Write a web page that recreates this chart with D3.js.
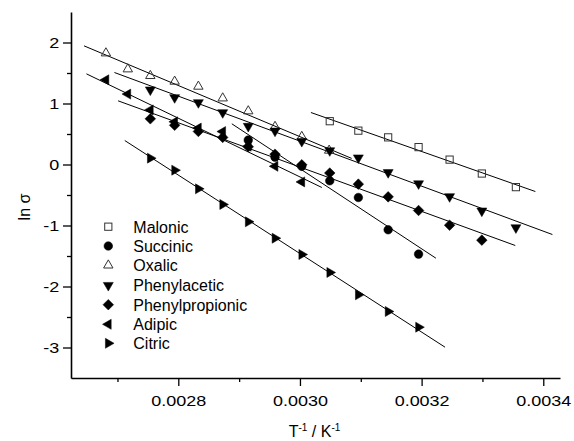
<!DOCTYPE html>
<html>
<head>
<meta charset="utf-8">
<script src="https://cdn.jsdelivr.net/npm/d3@7"></script>
<style>
  html, body { margin: 0; padding: 0; background: #fff; }
  svg { display: block; }
  text { font-family: "Liberation Sans", Arial, sans-serif; fill: #000; }
</style>
</head>
<body>
<svg id="chart" width="574" height="441"></svg>
<script>
// ---------- data ----------
const seriesNames = ["Malonic", "Succinic", "Oxalic", "Phenylacetic", "Phenylpropionic", "Adipic", "Citric"];

const malonicX = [0.003049, 0.003096, 0.003145, 0.003195, 0.003246, 0.003299, 0.003355];
const malonicY = [0.71, 0.555, 0.445, 0.285, 0.08, -0.148, -0.371];

const succinicX = [0.002915, 0.002959, 0.003003, 0.003049, 0.003096, 0.003145, 0.003195];
const succinicY = [0.40, 0.12, -0.03, -0.267, -0.541, -1.07, -1.469];

const oxalicX = [0.002681, 0.002717, 0.002754, 0.002794, 0.002833, 0.002873, 0.002915, 0.002959, 0.003003, 0.003048];
const oxalicY = [1.825, 1.563, 1.454, 1.361, 1.279, 1.087, 0.875, 0.62, 0.456, 0.23];

const phenylaceticX = [0.002754, 0.002794, 0.002833, 0.002873, 0.002915, 0.002959, 0.003003, 0.003049, 0.003096, 0.003145, 0.003195, 0.003246, 0.003299, 0.003355];
const phenylaceticY = [1.224, 1.098, 1.016, 0.852, 0.627, 0.55, 0.38, 0.228, 0.11, -0.131, -0.314, -0.525, -0.76, -1.035];

const phenylpropionicX = [0.002754, 0.002794, 0.002833, 0.002873, 0.002915, 0.002959, 0.003003, 0.003049, 0.003096, 0.003145, 0.003195, 0.003246, 0.003299];
const phenylpropionicY = [0.749, 0.643, 0.542, 0.444, 0.29, 0.169, -0.005, -0.14, -0.322, -0.53, -0.754, -0.995, -1.24];

const adipicX = [0.002681, 0.002717, 0.002754, 0.002794, 0.002833, 0.002873, 0.002915, 0.002959, 0.003003];
const adipicY = [1.389, 1.154, 0.895, 0.70, 0.597, 0.54, 0.30, -0.03, -0.285];

const citricX = [0.002754, 0.002794, 0.002833, 0.002873, 0.002915, 0.002959, 0.003003, 0.003049, 0.003096, 0.003145, 0.003195];
const citricY = [0.104, -0.093, -0.399, -0.655, -0.94, -1.208, -1.475, -1.77, -2.137, -2.41, -2.667];

// fitted straight lines: [x1, y1, x2, y2] as drawn in the reference
const malonicFit = [0.003018, 0.852, 0.003387, -0.443];
const succinicFit = [0.002888, 0.667, 0.0032235, -1.536];
const oxalicFit = [0.002645, 1.945, 0.003085, 0.10];
const phenylaceticFit = [0.002695, 1.508, 0.003415, -1.148];
const phenylpropionicFit = [0.002701, 1.044, 0.003354, -1.328];
const adipicFit = [0.002649, 1.486, 0.003036, -0.377];
const citricFit = [0.002712, 0.393, 0.0032385, -2.995];

const xMajorTicks = [0.0028, 0.0030, 0.0032, 0.0034];
const xMinorTicks = [0.0027, 0.0029, 0.0031, 0.0033];
const yMajorTicks = [-3, -2, -1, 0, 1, 2];
const yMinorTicks = [-2.5, -1.5, -0.5, 0.5, 1.5];
const xTickLabels = ["0.0028", "0.0030", "0.0032", "0.0034"];
const yTickLabels = ["-3", "-2", "-1", "0", "1", "2"];

// ---------- build ----------
const series = [
  { name: "Malonic", xs: malonicX, ys: malonicY, fit: malonicFit, shape: "square", open: true },
  { name: "Succinic", xs: succinicX, ys: succinicY, fit: succinicFit, shape: "circle", open: false },
  { name: "Oxalic", xs: oxalicX, ys: oxalicY, fit: oxalicFit, shape: "up", open: true },
  { name: "Phenylacetic", xs: phenylaceticX, ys: phenylaceticY, fit: phenylaceticFit, shape: "down", open: false },
  { name: "Phenylpropionic", xs: phenylpropionicX, ys: phenylpropionicY, fit: phenylpropionicFit, shape: "diamond", open: false },
  { name: "Adipic", xs: adipicX, ys: adipicY, fit: adipicFit, shape: "left", open: false },
  { name: "Citric", xs: citricX, ys: citricY, fit: citricFit, shape: "right", open: false }
];

const svg = d3.select("#chart");
const X0 = 71, X1 = 560, Y0 = 378, Y1 = 12;

const x = d3.scaleLinear().domain([0.0026236, 0.0034275]).range([X0, X1]);
const y = d3.scaleLinear().domain([-3.5, 2.5]).range([Y0, Y1]);

const STRETCH = 1.16;

// axes
const gx = svg.append("g").attr("transform", `translate(0,${Y0})`);
gx.call(d3.axisBottom(x).tickValues(xMajorTicks).tickSize(8).tickSizeOuter(0).tickPadding(9)
  .tickFormat((d, i) => xTickLabels[i]));
gx.append("g").call(d3.axisBottom(x).tickValues(xMinorTicks).tickSize(4).tickSizeOuter(0).tickFormat(""))
  .select(".domain").remove();

const gy = svg.append("g").attr("transform", `translate(${X0},0)`);
gy.call(d3.axisLeft(y).tickValues(yMajorTicks).tickSize(8).tickSizeOuter(0)
  .tickFormat((d, i) => yTickLabels[i]));
gy.append("g").call(d3.axisLeft(y).tickValues(yMinorTicks).tickSize(4).tickSizeOuter(0).tickFormat(""))
  .select(".domain").remove();

svg.selectAll(".domain").attr("stroke", "#000").attr("stroke-width", 1.6);
svg.selectAll(".tick line").attr("stroke", "#000").attr("stroke-width", 1.3);
gx.selectAll(".tick text").attr("font-size", 15.5).attr("font-family", "Liberation Sans, Arial, sans-serif")
  .attr("transform", `scale(${STRETCH},1)`);
gy.selectAll(".tick text").attr("font-size", 15.5).attr("font-family", "Liberation Sans, Arial, sans-serif")
  .attr("x", -11.7 / STRETCH).attr("dy", "0.33em")
  .attr("transform", `scale(${STRETCH},1)`);

// axis titles
const xt = svg.append("text").attr("x", 314.5).attr("y", 436.5).attr("text-anchor", "middle")
  .attr("font-size", 16);
xt.append("tspan").text("T");
xt.append("tspan").attr("font-size", 10).attr("dy", -6).text("-1");
xt.append("tspan").attr("dy", 6).text(" / K");
xt.append("tspan").attr("font-size", 10).attr("dy", -6).text("-1");

svg.append("text").attr("transform", "translate(30,207) rotate(-90)").attr("text-anchor", "middle")
  .attr("font-size", 16).text("ln σ");

// symbols
function drawSymbol(g, shape, open) {
  let p;
  if (shape === "square") {
    p = g.append("rect").attr("x", -3.6).attr("y", -3.6).attr("width", 7.2).attr("height", 7.2);
  } else if (shape === "circle") {
    p = g.append("circle").attr("r", 4.3);
  } else if (shape === "diamond") {
    p = g.append("path").attr("d", "M0,-5.3L5.3,0L0,5.3L-5.3,0Z");
  } else {
    const rot = { up: 0, down: 180, left: -90, right: 90 }[shape];
    const s = open ? 9.4 : 10; // triangle side
    const h = s * Math.sqrt(3) / 2;
    p = g.append("path").attr("d", `M0,${-2 * h / 3}L${s / 2},${h / 3}L${-s / 2},${h / 3}Z`)
      .attr("transform", `rotate(${rot})`);
  }
  if (open) p.attr("fill", "none").attr("stroke", "#333").attr("stroke-width", 1);
  else p.attr("fill", "#000").attr("stroke", "#000").attr("stroke-width", 0.5);
}

// fit lines
series.forEach(s => {
  svg.append("line")
    .attr("x1", x(s.fit[0])).attr("y1", y(s.fit[1]))
    .attr("x2", x(s.fit[2])).attr("y2", y(s.fit[3]))
    .attr("stroke", "#000").attr("stroke-width", 1);
});

// points
series.forEach(s => {
  const pts = s.xs.map((v, i) => [v, s.ys[i]]);
  svg.append("g").selectAll("g").data(pts).join("g")
    .attr("transform", d => `translate(${x(d[0])},${y(d[1])})`)
    .each(function () { drawSymbol(d3.select(this), s.shape, s.open); });
});

// legend
const legendRows = [226.7, 246, 265.3, 285.3, 304.7, 324.3, 343.3];
series.forEach((s, i) => {
  const g = svg.append("g").attr("transform", `translate(108.3,${legendRows[i]})`);
  drawSymbol(g, s.shape, s.open);
  svg.append("text").attr("x", 133.3).attr("y", legendRows[i] + 6).attr("font-size", 16).text(seriesNames[i]);
});
</script>
</body>
</html>
